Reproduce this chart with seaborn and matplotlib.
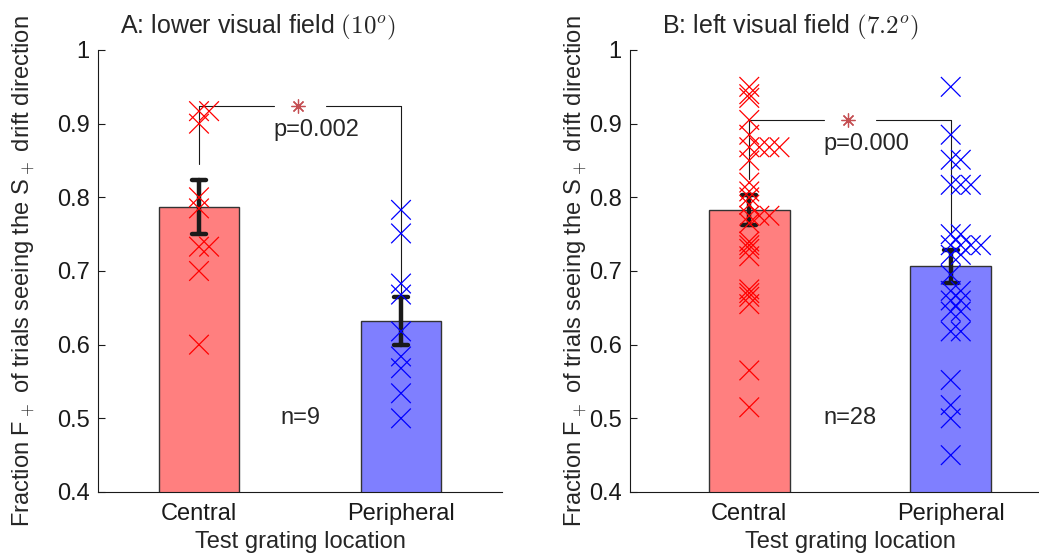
import numpy as np
import pandas as pd
import matplotlib
matplotlib.use("Agg")
import matplotlib.pyplot as plt
import seaborn as sns

# ---------------- data ----------------
locations = ["Central", "Peripheral"]

a_central = [0.917, 0.917, 0.900, 0.800, 0.785, 0.733, 0.733, 0.700, 0.600]
a_peripheral = [0.783, 0.751, 0.683, 0.668, 0.618, 0.584, 0.568, 0.534, 0.500]

b_central = [0.950, 0.940, 0.935, 0.905, 0.885, 0.868, 0.868, 0.868, 0.868,
             0.850, 0.820, 0.808, 0.800, 0.790, 0.775, 0.775, 0.775, 0.765,
             0.740, 0.735, 0.730, 0.720, 0.675, 0.670, 0.665, 0.655, 0.565,
             0.515]
b_peripheral = [0.950, 0.885, 0.851, 0.851, 0.817, 0.817, 0.817, 0.750,
                0.750, 0.735, 0.735, 0.735, 0.735, 0.722, 0.722, 0.695,
                0.673, 0.673, 0.660, 0.660, 0.645, 0.645, 0.618, 0.618,
                0.552, 0.518, 0.500, 0.450]

titles = [r"A: lower visual field $(10^o)$", r"B: left visual field $(7.2^o)$"]
p_labels = ["p=0.002", "p=0.000"]
n_labels = ["n=9", "n=28"]
y_ticks = [0.4, 0.5, 0.6, 0.7, 0.8, 0.9, 1.0]
y_tick_labels = ["0.4", "0.5", "0.6", "0.7", "0.8", "0.9", "1"]

bar_colors = {"Central": "#FF7F7F", "Peripheral": "#7F7FFF"}
cross_colors = {"Central": "#FF0000", "Peripheral": "#0000FF"}

# ---------------- style ----------------
sns.set_theme(style="ticks")
plt.rcParams["font.family"] = ["Liberation Sans", "DejaVu Sans"]
plt.rcParams["mathtext.fontset"] = "cm"
plt.rcParams["axes.linewidth"] = 0.8

FS = 17


def make_df(central, peripheral):
    df = pd.DataFrame({
        "location": ["Central"] * len(central) + ["Peripheral"] * len(peripheral),
        "fraction": list(central) + list(peripheral),
    })
    dup = df.groupby(["location", "fraction"]).cumcount()
    df["xpos"] = df["location"].map({l: i for i, l in enumerate(locations)}) + dup * 0.05
    return df


fig = plt.figure(figsize=(10.39, 5.55), dpi=100)
W, H = 1039, 555
axA = fig.add_axes([98 / W, 63 / H, 404 / W, 442 / H])
axB = fig.add_axes([630 / W, 63 / H, 440 / W, 442 / H])

panels = [
    dict(ax=axA, df=make_df(a_central, a_peripheral), xlim=(-0.5, 1.5),
         top=0.924, ends=(0.845, 0.665), title_x=0.396, ylab_x=-0.150,
         title=titles[0], p=p_labels[0], n=n_labels[0]),
    dict(ax=axB, df=make_df(b_central, b_peripheral), xlim=(-0.592, 1.592),
         top=0.905, ends=(0.825, 0.752), title_x=0.364, ylab_x=-0.094,
         title=titles[1], p=p_labels[1], n=n_labels[1]),
]

for P in panels:
    ax = P["ax"]
    df = P["df"]
    sns.barplot(data=df, x="location", y="fraction", hue="location",
                order=locations, hue_order=locations, palette=bar_colors,
                saturation=1, width=0.4, errorbar="se", capsize=0.07,
                err_kws={"color": "k", "linewidth": 3.2},
                edgecolor="#333333", linewidth=1.0, legend=False, ax=ax)
    sns.scatterplot(data=df, x="xpos", y="fraction", hue="location",
                    hue_order=locations, palette=cross_colors, marker="x",
                    s=200, linewidth=0.9, legend=False, ax=ax, zorder=5)

    # significance bracket
    top = P["top"]
    gap = 0.13
    ax.plot([0, 0], [P["ends"][0], top], color="k", lw=0.8, zorder=3)
    ax.plot([1, 1], [P["ends"][1], top], color="k", lw=0.8, zorder=3)
    ax.plot([0, 0.5 - gap], [top, top], color="k", lw=0.8, zorder=3)
    ax.plot([0.5 + gap, 1], [top, top], color="k", lw=0.8, zorder=3)
    ax.plot([0.49], [top], marker=(8, 2, 0), color="r", markersize=10,
            markeredgewidth=0.9, zorder=6)
    ax.text(0.58, top - 0.033, P["p"], ha="center", va="center", fontsize=FS)
    ax.text(0.5, 0.5, P["n"], ha="center", va="center", fontsize=FS)

    ax.set_xlim(*P["xlim"])
    ax.set_ylim(0.4, 1.0)
    ax.set_yticks(y_ticks)
    ax.set_yticklabels(y_tick_labels)
    ax.tick_params(direction="in", length=5, width=0.8, labelsize=FS,
                   colors="k", pad=6)
    ax.tick_params(axis="x", pad=8)
    for s in ["top", "right"]:
        ax.spines[s].set_visible(False)
    for s in ["left", "bottom"]:
        ax.spines[s].set_color("k")
    ax.set_xlabel("Test grating location", fontsize=FS, labelpad=4)
    ax.set_ylabel(r"Fraction F$_+$ of trials seeing the S$_+$ drift direction",
                  fontsize=FS)
    ax.yaxis.set_label_coords(P["ylab_x"], 0.5)
    ax.set_title(P["title"], fontsize=18, x=P["title_x"], pad=12)

fig.savefig("out.png", dpi=100)
